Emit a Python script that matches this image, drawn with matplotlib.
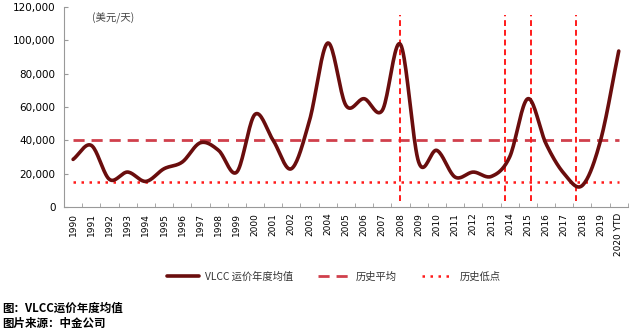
import numpy as np
import matplotlib
matplotlib.use("Agg")
import matplotlib.pyplot as plt

plt.rcParams['font.family'] = ['Noto Sans CJK SC', 'DejaVu Sans']

# data (USD/day)
years = ["1990", "1991", "1992", "1993", "1994", "1995", "1996", "1997", "1998", "1999",
         "2000", "2001", "2002", "2003", "2004", "2005", "2006", "2007", "2008", "2009",
         "2010", "2011", "2012", "2013", "2014", "2015", "2016", "2017", "2018", "2019",
         "2020 YTD"]
rates = [28600, 37000, 16600, 21000, 15400, 23000, 27000, 38600, 34000, 21000,
         55600, 40000, 23000, 52000, 98400, 61000, 65000, 58000, 97600, 27000,
         34000, 18000, 21000, 18400, 30000, 65000, 38000, 20000, 13000, 40000,
         93600]
hist_avg = 40000
hist_low = 15000
# vertical markers (category index)
markers = [18.0, 23.75, 25.16, 27.67]


def smooth(x, y, n=20):
    # bezier curve through the points, like excel's smoothed line
    x = np.asarray(x, float)
    y = np.asarray(y, float)
    px = np.concatenate([[2 * x[0] - x[1]], x, [2 * x[-1] - x[-2]]])
    py = np.concatenate([[2 * y[0] - y[1]], y, [2 * y[-1] - y[-2]]])
    xs, ys = [], []
    t = np.linspace(0, 1, n, endpoint=False)
    for i in range(1, len(px) - 2):
        p0, p1, p2, p3 = py[i - 1], py[i], py[i + 1], py[i + 2]
        q0, q1, q2, q3 = px[i - 1], px[i], px[i + 1], px[i + 2]
        b1 = p1 + (p2 - p0) / 6
        b2 = p2 - (p3 - p1) / 6
        c1 = q1 + (q2 - q0) / 6
        c2 = q2 - (q3 - q1) / 6
        ys.append((1 - t) ** 3 * p1 + 3 * (1 - t) ** 2 * t * b1 + 3 * (1 - t) * t ** 2 * b2 + t ** 3 * p2)
        xs.append((1 - t) ** 3 * q1 + 3 * (1 - t) ** 2 * t * c1 + 3 * (1 - t) * t ** 2 * c2 + t ** 3 * q2)
    xs.append([x[-1]])
    ys.append([y[-1]])
    return np.concatenate(xs), np.concatenate(ys)


x = np.arange(len(years))
sx, sy = smooth(x, rates)

fig = plt.figure(figsize=(6.4, 3.34), dpi=100)
ax = fig.add_axes([0.1, 0.38, 0.881, 0.599])

ax.plot([x[0], x[-1]], [hist_avg, hist_avg], color='#d0404c', lw=2.0,
        dashes=(4, 2.5), label='历史平均', zorder=2)
ax.plot([x[0], x[-1]], [hist_low, hist_low], color='#ff1a1a', lw=1.8,
        linestyle=(0, (1, 2.2)), label='历史低点', zorder=2)
for m in markers:
    ax.plot([m, m], [3500, 115000], color='#ff1a1a', lw=1.4,
            dashes=(3, 2), zorder=2)
ax.plot(sx, sy, color='#6a0d0d', lw=2.6, solid_capstyle='round',
        label='VLCC 运价年度均值', zorder=3)

ax.set_xlim(-0.5, len(years) - 0.5)
ax.set_ylim(0, 120000)
ax.set_yticks(range(0, 120001, 20000))
ax.set_yticklabels([f"{v:,}" for v in range(0, 120001, 20000)], fontsize=7.5,
                   family=['DejaVu Sans'])
ax.set_xticks(x)
ax.set_xticklabels(years, rotation=90, fontsize=6.5, family=['DejaVu Sans'])
ax.set_xticks(np.arange(-0.5, len(years)), minor=True)
ax.tick_params(axis='x', which='major', length=0, pad=4)
ax.tick_params(axis='x', which='minor', direction='in', length=3, color='#999999')
ax.tick_params(axis='y', length=3, direction='in', color='#999999', pad=6)
for s in ['top', 'right']:
    ax.spines[s].set_visible(False)
for s in ['left', 'bottom']:
    ax.spines[s].set_color('#999999')
    ax.spines[s].set_linewidth(0.8)

ax.text(0.05, 0.97, '(美元/天)', transform=ax.transAxes, fontsize=7.5,
        color='#444444', va='top')

h, l = ax.get_legend_handles_labels()
order = [2, 0, 1]
fig.legend([h[i] for i in order], [l[i] for i in order], loc='center left',
           bbox_to_anchor=(0.261, 0.171), ncol=3, frameon=False, fontsize=7.4,
           handlelength=3.1, columnspacing=2.4, handletextpad=0.6, borderpad=0,
           borderaxespad=0, labelcolor='#333333')

fig.text(0.004, 0.077, '图：VLCC运价年度均值', fontsize=8.3, va='center',
         fontweight='bold')
fig.text(0.004, 0.032, '图片来源：中金公司', fontsize=8.3, va='center',
         fontweight='bold')

fig.savefig('out.png', dpi=100)
